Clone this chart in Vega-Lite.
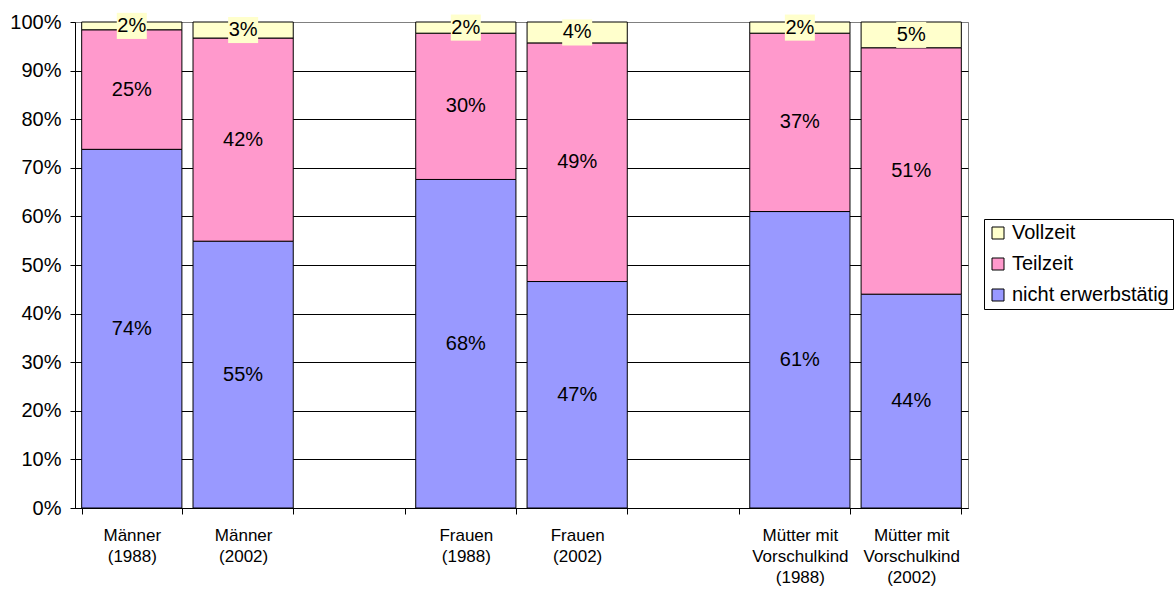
{
  "$schema": "https://vega.github.io/schema/vega-lite/v6.json",
  "width": 893,
  "height": 486,
  "autosize": {"type": "none"},
  "padding": {"left": 75, "top": 22, "right": 206, "bottom": 82},
  "background": "white",
  "config": {"font": "Liberation Sans", "view": {"stroke": "#808080"}},
  "data": {
    "values": [
      {"cat": "Männer|(1988)", "status": "nicht erwerbstätig", "ord": 1, "value": 0.738},
      {"cat": "Männer|(1988)", "status": "Teilzeit", "ord": 2, "value": 0.246},
      {"cat": "Männer|(1988)", "status": "Vollzeit", "ord": 3, "value": 0.016},
      {"cat": "Männer|(2002)", "status": "nicht erwerbstätig", "ord": 1, "value": 0.549},
      {"cat": "Männer|(2002)", "status": "Teilzeit", "ord": 2, "value": 0.418},
      {"cat": "Männer|(2002)", "status": "Vollzeit", "ord": 3, "value": 0.033},
      {"cat": "Frauen|(1988)", "status": "nicht erwerbstätig", "ord": 1, "value": 0.676},
      {"cat": "Frauen|(1988)", "status": "Teilzeit", "ord": 2, "value": 0.301},
      {"cat": "Frauen|(1988)", "status": "Vollzeit", "ord": 3, "value": 0.023},
      {"cat": "Frauen|(2002)", "status": "nicht erwerbstätig", "ord": 1, "value": 0.466},
      {"cat": "Frauen|(2002)", "status": "Teilzeit", "ord": 2, "value": 0.491},
      {"cat": "Frauen|(2002)", "status": "Vollzeit", "ord": 3, "value": 0.043},
      {"cat": "Mütter mit|Vorschulkind|(1988)", "status": "nicht erwerbstätig", "ord": 1, "value": 0.61},
      {"cat": "Mütter mit|Vorschulkind|(1988)", "status": "Teilzeit", "ord": 2, "value": 0.367},
      {"cat": "Mütter mit|Vorschulkind|(1988)", "status": "Vollzeit", "ord": 3, "value": 0.023},
      {"cat": "Mütter mit|Vorschulkind|(2002)", "status": "nicht erwerbstätig", "ord": 1, "value": 0.44},
      {"cat": "Mütter mit|Vorschulkind|(2002)", "status": "Teilzeit", "ord": 2, "value": 0.507},
      {"cat": "Mütter mit|Vorschulkind|(2002)", "status": "Vollzeit", "ord": 3, "value": 0.053}
    ]
  },
  "transform": [
    {"stack": "value", "groupby": ["cat"], "sort": [{"field": "ord", "order": "ascending"}], "as": ["lo", "hi"]},
    {"calculate": "(datum.lo + datum.hi) / 2", "as": "mid"}
  ],
  "encoding": {
    "x": {
      "field": "cat",
      "type": "nominal",
      "sort": null,
      "scale": {
        "domain": ["Männer|(1988)", "Männer|(2002)", " ", "Frauen|(1988)", "Frauen|(2002)", "  ", "Mütter mit|Vorschulkind|(1988)", "Mütter mit|Vorschulkind|(2002)"],
        "paddingInner": 0.1,
        "paddingOuter": 0.06
      },
      "axis": {
        "title": null,
        "labelAngle": 0,
        "labelExpr": "split(datum.label, '|')",
        "labelFontSize": 17,
        "labelLineHeight": 21,
        "labelLimit": 0,
        "labelColor": "black",
        "labelPadding": 13,
        "tickBand": "extent",
        "tickColor": "black",
        "tickSize": 6,
        "domainColor": "black",
        "grid": false
      }
    },
    "y": {
      "field": "lo",
      "type": "quantitative",
      "scale": {"domain": [0, 1]},
      "axis": {
        "title": null,
        "format": ".0%",
        "values": [0, 0.1, 0.2, 0.3, 0.4, 0.5, 0.6, 0.7, 0.8, 0.9, 1],
        "grid": true,
        "gridColor": {"condition": {"test": "datum.value >= 1", "value": "#808080"}, "value": "black"},
        "gridOpacity": 1,
        "tickColor": "black",
        "tickSize": 5,
        "domainColor": "black",
        "labelFontSize": 20,
        "labelColor": "black",
        "labelPadding": 9
      }
    }
  },
  "layer": [
    {
      "mark": {"type": "bar", "stroke": "black", "strokeWidth": 1},
      "encoding": {
        "y2": {"field": "hi"},
        "color": {
          "field": "status",
          "type": "nominal",
          "scale": {
            "domain": ["Vollzeit", "Teilzeit", "nicht erwerbstätig"],
            "range": ["#FFFFCC", "#FF99CC", "#9999FF"]
          },
          "legend": {
            "title": null,
            "orient": "none",
            "legendX": 909,
            "legendY": 197,
            "strokeColor": "black",
            "fillColor": "white",
            "padding": 4,
            "symbolType": "square",
            "symbolSize": 144,
            "symbolStrokeColor": "black",
            "symbolStrokeWidth": 1,
            "labelFontSize": 20,
            "labelOffset": 4,
            "labelColor": "black",
            "labelLimit": 0,
            "rowPadding": 11
          }
        }
      }
    },
    {
      "transform": [{"filter": "datum.status === 'Vollzeit'"}],
      "mark": {"type": "point", "shape": "M-1,-0.87H1V0.87H-1Z", "filled": true, "fill": "#FFFFCC", "opacity": 1, "size": 900, "strokeWidth": 0},
      "encoding": {"y": {"field": "mid", "type": "quantitative"}}
    },
    {
      "mark": {"type": "text", "fontSize": 20, "baseline": "middle", "color": "black"},
      "encoding": {
        "y": {"field": "mid", "type": "quantitative"},
        "text": {"field": "value", "type": "quantitative", "format": ".0%"}
      }
    }
  ]
}
